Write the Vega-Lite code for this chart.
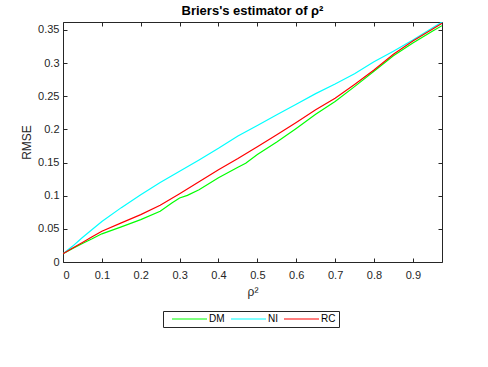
{
  "$schema": "https://vega.github.io/schema/vega-lite/v6.json",
  "autosize": "none",
  "width": 379,
  "height": 240,
  "padding": {"left": 63, "top": 22, "right": 46, "bottom": 105},
  "background": "white",
  "config": {
    "view": {"stroke": null},
    "font": "Liberation Sans",
    "axis": {"grid": false, "domainColor": "#262626", "tickColor": "#262626", "labelColor": "#262626", "titleColor": "#262626", "labelFontSize": 11, "titleFontSize": 12, "titleFontWeight": "normal", "tickSize": -4, "labelFont": "Liberation Sans", "titleFont": "Liberation Sans"}
  },
  "title": {"text": "Briers's estimator of ρ²", "fontSize": 13, "fontWeight": "bold", "font": "Liberation Sans", "color": "#000000", "offset": 1},
  "resolve": {"axis": {"x": "independent", "y": "independent"}},
  "data": {"values": [
    {"rho": 0, "rmse": 0.0125, "method": "DM"},
    {"rho": 0.025, "rmse": 0.0205, "method": "DM"},
    {"rho": 0.05, "rmse": 0.028, "method": "DM"},
    {"rho": 0.075, "rmse": 0.035, "method": "DM"},
    {"rho": 0.1, "rmse": 0.0425, "method": "DM"},
    {"rho": 0.15, "rmse": 0.053, "method": "DM"},
    {"rho": 0.2, "rmse": 0.064, "method": "DM"},
    {"rho": 0.25, "rmse": 0.0765, "method": "DM"},
    {"rho": 0.28, "rmse": 0.089, "method": "DM"},
    {"rho": 0.3, "rmse": 0.0965, "method": "DM"},
    {"rho": 0.32, "rmse": 0.1005, "method": "DM"},
    {"rho": 0.35, "rmse": 0.109, "method": "DM"},
    {"rho": 0.4, "rmse": 0.127, "method": "DM"},
    {"rho": 0.45, "rmse": 0.143, "method": "DM"},
    {"rho": 0.47, "rmse": 0.149, "method": "DM"},
    {"rho": 0.5, "rmse": 0.162, "method": "DM"},
    {"rho": 0.55, "rmse": 0.181, "method": "DM"},
    {"rho": 0.6, "rmse": 0.2015, "method": "DM"},
    {"rho": 0.65, "rmse": 0.2227, "method": "DM"},
    {"rho": 0.7, "rmse": 0.242, "method": "DM"},
    {"rho": 0.75, "rmse": 0.2645, "method": "DM"},
    {"rho": 0.8, "rmse": 0.2876, "method": "DM"},
    {"rho": 0.85, "rmse": 0.311, "method": "DM"},
    {"rho": 0.9, "rmse": 0.3303, "method": "DM"},
    {"rho": 0.95, "rmse": 0.348, "method": "DM"},
    {"rho": 0.975, "rmse": 0.3565, "method": "DM"},
    {"rho": 0, "rmse": 0.0125, "method": "NI"},
    {"rho": 0.025, "rmse": 0.024, "method": "NI"},
    {"rho": 0.05, "rmse": 0.037, "method": "NI"},
    {"rho": 0.075, "rmse": 0.049, "method": "NI"},
    {"rho": 0.1, "rmse": 0.061, "method": "NI"},
    {"rho": 0.15, "rmse": 0.082, "method": "NI"},
    {"rho": 0.2, "rmse": 0.1015, "method": "NI"},
    {"rho": 0.25, "rmse": 0.12, "method": "NI"},
    {"rho": 0.3, "rmse": 0.137, "method": "NI"},
    {"rho": 0.35, "rmse": 0.154, "method": "NI"},
    {"rho": 0.4, "rmse": 0.1715, "method": "NI"},
    {"rho": 0.45, "rmse": 0.19, "method": "NI"},
    {"rho": 0.5, "rmse": 0.206, "method": "NI"},
    {"rho": 0.55, "rmse": 0.222, "method": "NI"},
    {"rho": 0.6, "rmse": 0.238, "method": "NI"},
    {"rho": 0.65, "rmse": 0.254, "method": "NI"},
    {"rho": 0.7, "rmse": 0.2685, "method": "NI"},
    {"rho": 0.75, "rmse": 0.284, "method": "NI"},
    {"rho": 0.8, "rmse": 0.302, "method": "NI"},
    {"rho": 0.85, "rmse": 0.318, "method": "NI"},
    {"rho": 0.9, "rmse": 0.335, "method": "NI"},
    {"rho": 0.95, "rmse": 0.353, "method": "NI"},
    {"rho": 0.975, "rmse": 0.362, "method": "NI"},
    {"rho": 0, "rmse": 0.0125, "method": "RC"},
    {"rho": 0.025, "rmse": 0.021, "method": "RC"},
    {"rho": 0.05, "rmse": 0.0295, "method": "RC"},
    {"rho": 0.075, "rmse": 0.038, "method": "RC"},
    {"rho": 0.1, "rmse": 0.0465, "method": "RC"},
    {"rho": 0.15, "rmse": 0.059, "method": "RC"},
    {"rho": 0.2, "rmse": 0.0715, "method": "RC"},
    {"rho": 0.25, "rmse": 0.0855, "method": "RC"},
    {"rho": 0.3, "rmse": 0.103, "method": "RC"},
    {"rho": 0.35, "rmse": 0.121, "method": "RC"},
    {"rho": 0.4, "rmse": 0.139, "method": "RC"},
    {"rho": 0.45, "rmse": 0.156, "method": "RC"},
    {"rho": 0.5, "rmse": 0.174, "method": "RC"},
    {"rho": 0.55, "rmse": 0.192, "method": "RC"},
    {"rho": 0.6, "rmse": 0.2105, "method": "RC"},
    {"rho": 0.65, "rmse": 0.2295, "method": "RC"},
    {"rho": 0.7, "rmse": 0.247, "method": "RC"},
    {"rho": 0.75, "rmse": 0.2679, "method": "RC"},
    {"rho": 0.8, "rmse": 0.2897, "method": "RC"},
    {"rho": 0.85, "rmse": 0.3133, "method": "RC"},
    {"rho": 0.9, "rmse": 0.3332, "method": "RC"},
    {"rho": 0.95, "rmse": 0.351, "method": "RC"},
    {"rho": 0.975, "rmse": 0.36, "method": "RC"}
  ]},
  "layer": [
    {
      "mark": {"type": "line", "strokeWidth": 1.2, "clip": true},
      "encoding": {
        "x": {"field": "rho", "type": "quantitative", "scale": {"domain": [0, 0.975], "nice": false}, "axis": {"title": "ρ²", "values": [0, 0.1, 0.2, 0.3, 0.4, 0.5, 0.6, 0.7, 0.8, 0.9], "format": "~g", "labelPadding": 11, "titlePadding": 6}},
        "y": {"field": "rmse", "type": "quantitative", "scale": {"domain": [0, 0.362], "nice": false}, "axis": {"title": "RMSE", "values": [0, 0.05, 0.1, 0.15, 0.2, 0.25, 0.3, 0.35], "format": "~g", "labelPadding": 8, "titlePadding": 4}},
        "color": {"field": "method", "type": "nominal", "scale": {"domain": ["DM", "NI", "RC"], "range": ["#00ff00", "#00ffff", "#ff0000"]},
          "legend": {"title": null, "orient": "none", "legendX": 100, "legendY": 289, "direction": "horizontal", "symbolType": "M0.33,0H12", "symbolSize": 36, "symbolStrokeWidth": 1.2, "labelFontSize": 10, "labelColor": "#000000", "strokeColor": "#262626", "fillColor": "white", "padding": 3, "columnPadding": -3, "labelOffset": 33}}
      }
    },
    {
      "mark": {"type": "point", "opacity": 0},
      "encoding": {
        "x": {"field": "rho", "type": "quantitative", "axis": {"orient": "top", "title": null, "labels": false, "values": [0, 0.1, 0.2, 0.3, 0.4, 0.5, 0.6, 0.7, 0.8, 0.9]}},
        "y": {"field": "rmse", "type": "quantitative", "axis": {"orient": "right", "title": null, "labels": false, "values": [0, 0.05, 0.1, 0.15, 0.2, 0.25, 0.3, 0.35]}}
      }
    }
  ]
}
